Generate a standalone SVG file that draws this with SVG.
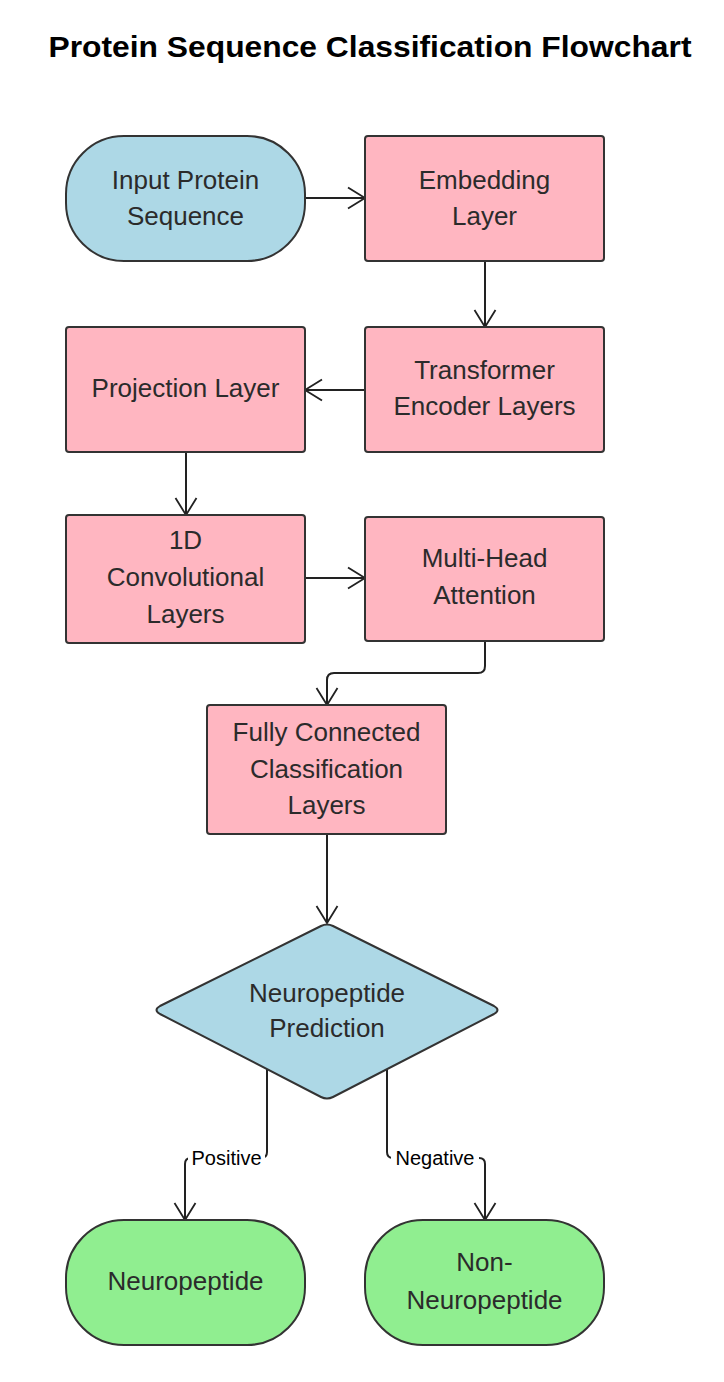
<svg xmlns="http://www.w3.org/2000/svg" width="724" height="1382" viewBox="0 0 724 1382">
<defs>
<style>
.bg{fill:#ffffff}
.blue{fill:#add8e6;stroke:#333333;stroke-width:2}
.pink{fill:#ffb6c1;stroke:#333333;stroke-width:2}
.green{fill:#90ee90;stroke:#333333;stroke-width:2}
.t{font-family:"Liberation Sans",Arial,sans-serif;font-size:26px;fill:#2b2b2b;text-anchor:middle}
.title{font-family:"Liberation Sans",Arial,sans-serif;font-size:30px;font-weight:bold;fill:#000000;text-anchor:middle}
.lbl{font-family:"Liberation Sans",Arial,sans-serif;font-size:20px;fill:#000000;text-anchor:middle}
.edge{fill:none;stroke:#222222;stroke-width:2}
</style>
<marker id="arr" markerUnits="userSpaceOnUse" markerWidth="20" markerHeight="24" refX="18" refY="12" orient="auto">
<path d="M1,1.5 L18,12 L1,22.5" fill="none" stroke="#222222" stroke-width="1.8"/>
</marker>
</defs>
<rect class="bg" x="0" y="0" width="724" height="1382"/>
<text class="title" x="370" y="57" textLength="643" lengthAdjust="spacingAndGlyphs">Protein Sequence Classification Flowchart</text>

<g id="connectors">
<path class="edge" d="M305,198 H365" marker-end="url(#arr)"/>
<path class="edge" d="M485,261 V327" marker-end="url(#arr)"/>
<path class="edge" d="M365,390 H305" marker-end="url(#arr)"/>
<path class="edge" d="M186,452 V515" marker-end="url(#arr)"/>
<path class="edge" d="M305,578 H365" marker-end="url(#arr)"/>
<path class="edge" d="M485,641 V666 Q485,673 478,673 H334 Q327,673 327,680 V705" marker-end="url(#arr)"/>
<path class="edge" d="M327,834 V923" marker-end="url(#arr)"/>
<path class="edge" d="M267,1069 V1152 Q267,1158 261,1158 H191 Q185,1158 185,1164 V1220" marker-end="url(#arr)"/>
<path class="edge" d="M387,1069 V1152 Q387,1158 393,1158 H479 Q485,1158 485,1164 V1220" marker-end="url(#arr)"/>
<rect x="188" y="1146" width="77" height="22" fill="#ffffff"/>
<rect x="391" y="1146" width="88" height="22" fill="#ffffff"/>
<text class="lbl" x="226.5" y="1165">Positive</text>
<text class="lbl" x="435" y="1165">Negative</text>
</g>

<g id="input">
<rect class="blue" x="66" y="136" width="239" height="125" rx="58" ry="58"/>
<text class="t" x="185.5" y="189">Input Protein</text>
<text class="t" x="185.5" y="225">Sequence</text>
</g>
<g id="embedding">
<rect class="pink" x="365" y="136" width="239" height="125" rx="3"/>
<text class="t" x="484.5" y="189">Embedding</text>
<text class="t" x="484.5" y="225">Layer</text>
</g>
<g id="transformer">
<rect class="pink" x="365" y="327" width="239" height="125" rx="3"/>
<text class="t" x="484.5" y="379">Transformer</text>
<text class="t" x="484.5" y="415">Encoder Layers</text>
</g>
<g id="projection">
<rect class="pink" x="66" y="327" width="239" height="125" rx="3"/>
<text class="t" x="185.5" y="397">Projection Layer</text>
</g>
<g id="conv">
<rect class="pink" x="66" y="515" width="239" height="128" rx="3"/>
<text class="t" x="185.5" y="549">1D</text>
<text class="t" x="185.5" y="586">Convolutional</text>
<text class="t" x="185.5" y="623">Layers</text>
</g>
<g id="attention">
<rect class="pink" x="365" y="517" width="239" height="124" rx="3"/>
<text class="t" x="484.5" y="567">Multi-Head</text>
<text class="t" x="484.5" y="604">Attention</text>
</g>
<g id="fc">
<rect class="pink" x="207" y="705" width="239" height="129" rx="3"/>
<text class="t" x="326.5" y="741">Fully Connected</text>
<text class="t" x="326.5" y="778">Classification</text>
<text class="t" x="326.5" y="814">Layers</text>
</g>
<g id="decision">
<path class="blue" d="M321,926 Q327,923 333,926 L494,1006 Q501,1010 494,1014 L333,1097 Q327,1100 321,1097 L160,1014 Q153,1010 160,1006 Z"/>
<text class="t" x="327" y="1002">Neuropeptide</text>
<text class="t" x="327" y="1037">Prediction</text>
</g>
<g id="neuropeptide">
<rect class="green" x="66" y="1220" width="239" height="125" rx="58" ry="58"/>
<text class="t" x="185.5" y="1290">Neuropeptide</text>
</g>
<g id="nonneuropeptide">
<rect class="green" x="365" y="1220" width="239" height="125" rx="58" ry="58"/>
<text class="t" x="484.5" y="1271">Non-</text>
<text class="t" x="484.5" y="1309">Neuropeptide</text>
</g>
</svg>
